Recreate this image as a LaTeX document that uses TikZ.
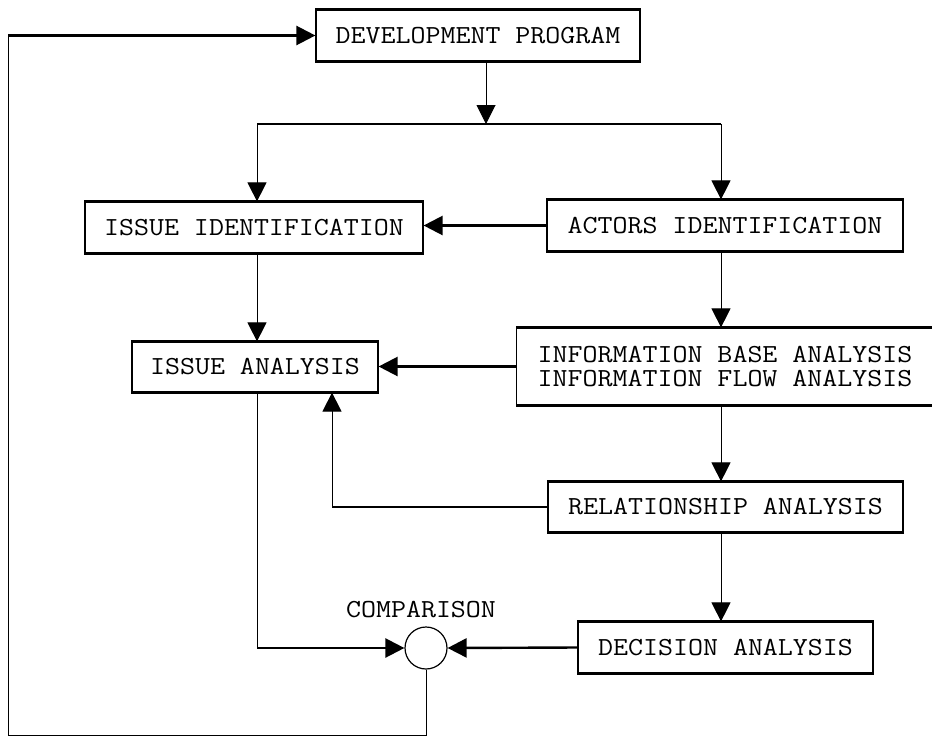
\documentclass[tikz,border=0pt]{standalone}
\usepackage{fontspec}
\usepackage{graphicx}
\usetikzlibrary{arrows.meta,calc}
\newcommand\boxfont{\ttfamily\fontsize{26}{24}\selectfont}
\newcommand\wide[1]{\scalebox{1.12}[1]{#1}}
\begin{document}
\begin{tikzpicture}[x=1pt,y=-1pt,
  box/.style={draw, line width=1.2pt, inner sep=0pt, align=center, font=\boxfont},
  thinline/.style={line width=1pt},
  thickline/.style={line width=2.4pt},
  tri/.style={-{Triangle[length=19pt,width=19pt]}},
  edgebar/.style={line width=2.6pt}]
\useasboundingbox (0,0) rectangle (932,737);
\fill[white] (0,0) rectangle (932,737);

% boxes
\node[box, minimum width=324pt, minimum height=51pt] (dp)   at (478,35.5)  {\wide{DEVELOPMENT PROGRAM}};
\node[box, minimum width=338pt, minimum height=51pt] (iid)  at (254,227.5) {\wide{ISSUE IDENTIFICATION}};
\node[box, minimum width=356pt, minimum height=51pt] (aid)  at (725,225.5) {\wide{ACTORS IDENTIFICATION}};
\node[box, minimum width=246pt, minimum height=50pt] (ia)   at (255,367)   {\wide{ISSUE ANALYSIS}};
\node[box, draw=none, minimum width=416pt, minimum height=77pt] (info) at (725,366.5)
  {\wide{INFORMATION BASE ANALYSIS}\\\wide{INFORMATION FLOW ANALYSIS}};
\node[box, minimum width=355pt, minimum height=50pt] (rel)  at (725.5,507) {\wide{RELATIONSHIP ANALYSIS}};
\node[box, minimum width=295pt, minimum height=51pt] (dec)  at (725.5,647.5) {\wide{DECISION ANALYSIS}};
\node[circle, draw, line width=1.2pt, minimum size=42pt, inner sep=0pt] (cmp) at (426,648) {};
\node[font=\boxfont, inner sep=0pt] (cmplabel) at (421,610) {\wide{COMPARISON}};

% info box: open on the right (cut by the page edge)
\draw[line width=1.2pt] (info.north west) -- (info.south west);
\draw[edgebar] (info.north west) -- (info.north east);
\draw[edgebar] (info.south west) -- (info.south east);

% heavier top and bottom edges of the boxes
\foreach \n in {dp,iid,aid,ia,rel,dec}{
  \draw[edgebar] (\n.north west) -- (\n.north east);
  \draw[edgebar] (\n.south west) -- (\n.south east);
}

% coordinates
\coordinate (j)  at (486,124);
\coordinate (jl) at (257,124);
\coordinate (jr) at (721,124);
\coordinate (fbl) at (8,735);
\coordinate (ib) at (332,507);

% connectors
\draw[thinline, tri] (dp.south -| j) -- (j);
\draw[thickline] (jl) -- (jr);
\draw[thinline, tri] (jl) -- (jl |- iid.north);
\draw[thinline, tri] (jr) -- (jr |- aid.north);
\draw[thickline, tri] (aid.west) -- (aid.west -| iid.east);
\draw[thinline, tri] (iid.south -| jl) -- (jl |- ia.north);
\draw[thinline, tri] (aid.south -| jr) -- (jr |- info.north);
\draw[thickline, tri] (info.west) -- (info.west -| ia.east);
\draw[thinline, tri] (info.south -| jr) -- (jr |- rel.north);
\draw[thickline] (rel.west) -- (ib);
\draw[thinline, tri] (ib) -- (ib |- ia.south);
\draw[thinline, tri] (rel.south -| jr) -- (jr |- dec.north);
\draw[thinline] (ia.south -| jl) -- (jl |- cmp.west);
\draw[thickline, tri] (jl |- cmp.west) -- (cmp.west);
\draw[thickline, tri] (dec.west) -- (cmp.east);
\draw[thinline] (cmp.south) -- (cmp.south |- fbl) -- (fbl) -- (fbl |- dp.west);
\draw[thickline, tri] (fbl |- dp.west) -- (dp.west);
\end{tikzpicture}
\end{document}
